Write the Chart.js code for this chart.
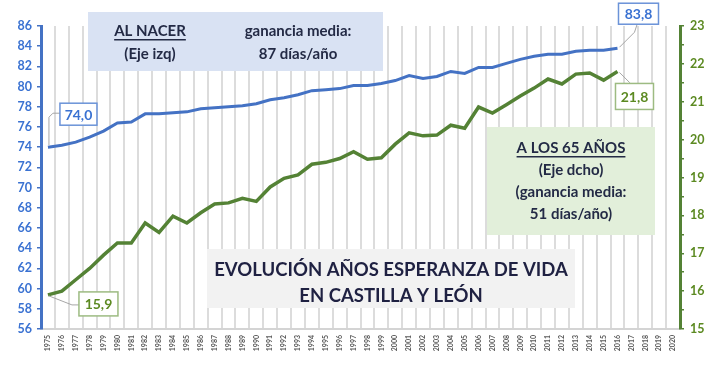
<!DOCTYPE html>
<html lang="es">
<head>
<meta charset="utf-8">
<title>Esperanza de vida en Castilla y León</title>
<script src="https://cdn.jsdelivr.net/npm/chart.js@4/dist/chart.umd.min.js"></script>
<style>
  html, body { margin: 0; padding: 0; background: #fff; }
  #wrap { width: 728px; height: 365px; position: relative; }
</style>
</head>
<body>
<div id="wrap"><canvas id="grafico"></canvas></div>
<script>
// años del eje X (la serie llega hasta 2016, el eje hasta 2020)
const anios = ['1975','1976','1977','1978','1979','1980','1981','1982','1983','1984',
  '1985','1986','1987','1988','1989','1990','1991','1992','1993','1994',
  '1995','1996','1997','1998','1999','2000','2001','2002','2003','2004',
  '2005','2006','2007','2008','2009','2010','2011','2012','2013','2014',
  '2015','2016','2017','2018','2019','2020'];

// esperanza de vida al nacer (eje izquierdo)
const alNacer = [74.0, 74.2, 74.5, 75.0, 75.6, 76.4, 76.5, 77.3, 77.3, 77.4,
  77.5, 77.8, 77.9, 78.0, 78.1, 78.3, 78.7, 78.9, 79.2, 79.6,
  79.7, 79.8, 80.1, 80.1, 80.3, 80.6, 81.1, 80.8, 81.0, 81.5,
  81.3, 81.9, 81.9, 82.3, 82.7, 83.0, 83.2, 83.2, 83.5, 83.6,
  83.6, 83.8];

// esperanza de vida a los 65 años (eje derecho)
const a65 = [15.9, 16.0, 16.3, 16.6, 16.95, 17.27, 17.27, 17.8, 17.55, 17.98,
  17.8, 18.07, 18.3, 18.33, 18.45, 18.37, 18.75, 18.98, 19.07, 19.35,
  19.4, 19.5, 19.68, 19.48, 19.52, 19.88, 20.18, 20.1, 20.12, 20.38,
  20.3, 20.86, 20.7, 20.92, 21.15, 21.36, 21.6, 21.47, 21.73, 21.76,
  21.57, 21.8];

// límites de los ejes
const ejeIzq = { min: 56, max: 86 };
const ejeDcho = { min: 15, max: 23 };

const AZUL = '#4472C4';
const AZUL_TXT = '#3a72d2';
const VERDE = '#548235';
const VERDE_TXT = '#5c8a22';
const FUENTE = 'Lato, "Open Sans", sans-serif';

Chart.defaults.font.family = FUENTE;

const fmt = v => v.toFixed(1).replace('.', ',');

// cuadros de texto y etiquetas de valor
const cuadrosPlugin = {
    id: 'cuadros',
    beforeDatasetsDraw(chart) {
        const ctx = chart.ctx;
        ctx.save();
        ctx.textAlign = 'center';
        ctx.textBaseline = 'middle';

        // cuadro azul: al nacer
        ctx.fillStyle = '#d9e2f3';
        ctx.fillRect(88, 12, 295, 59);
        ctx.fillStyle = '#232a45';
        ctx.font = 'bold 15px ' + FUENTE;
        textoSubrayado(ctx, 'AL NACER', 150, 31);
        ctx.fillText('(Eje izq)', 150, 54);
        ctx.fillText('ganancia media:', 298, 31);
        ctx.fillText('87 días/año', 298, 54);

        // cuadro verde: a los 65 años
        ctx.fillStyle = '#e2efda';
        ctx.fillRect(487, 127, 168, 108);
        ctx.fillStyle = '#232a45';
        textoSubrayado(ctx, 'A LOS 65 AÑOS', 571, 148);
        ctx.fillText('(Eje dcho)', 571, 170);
        ctx.fillText('(ganancia media:', 571, 192);
        ctx.fillText('51 días/año)', 571, 214);

        // cuadro gris: título
        ctx.fillStyle = '#f2f2f2';
        ctx.fillRect(207, 249, 368, 59);
        ctx.fillStyle = '#1f2142';
        ctx.font = 'bold 18.5px ' + FUENTE;
        ctx.fillText('EVOLUCIÓN AÑOS ESPERANZA DE VIDA', 391, 270);
        ctx.fillText('EN CASTILLA Y LEÓN', 391, 296);
        ctx.restore();
    },
    afterDatasetsDraw(chart) {
        const ctx = chart.ctx;
        const pN = chart.getDatasetMeta(0).data;
        const p6 = chart.getDatasetMeta(1).data;
        const ini = 0, fin = alNacer.length - 1;

        // 74,0
        let p = pN[ini];
        guia(ctx, [[p.x + 1, p.y - 2], [p.x + 1, p.y - 30], [p.x + 5, p.y - 34], [p.x + 12, p.y - 34]]);
        etiqueta(ctx, fmt(alNacer[ini]), p.x + 12, p.y - 44, 37, 22, '#6b93d8', AZUL_TXT);

        // 15,9
        p = p6[ini];
        guia(ctx, [[p.x + 1, p.y + 1], [p.x + 24, p.y + 10], [p.x + 31, p.y + 10]]);
        etiqueta(ctx, fmt(a65[ini]), p.x + 31, p.y - 3, 39, 24, '#9dbb82', VERDE_TXT);

        // 83,8
        p = pN[fin];
        guia(ctx, [[p.x + 2, p.y - 1], [p.x + 17, p.y - 16], [p.x + 20, p.y - 25]]);
        etiqueta(ctx, fmt(alNacer[fin]), p.x + 1, p.y - 45, 40, 21, '#6b93d8', AZUL_TXT);

        // 21,8
        p = p6[fin];
        guia(ctx, [[p.x + 2, p.y + 1], [p.x + 12, p.y + 11], [p.x + 13, p.y + 12]]);
        etiqueta(ctx, fmt(a65[fin]), p.x - 2, p.y + 12, 38, 26, '#9dbb82', VERDE_TXT);
    }
};

function textoSubrayado(ctx, txt, x, y) {
    ctx.fillText(txt, x, y);
    const w = ctx.measureText(txt).width;
    ctx.fillRect(x - w / 2, y + 8, w, 1.5);
}

function guia(ctx, pts) {
    ctx.save();
    ctx.strokeStyle = '#a6a6a6';
    ctx.lineWidth = 1;
    ctx.beginPath();
    ctx.moveTo(pts[0][0], pts[0][1]);
    pts.slice(1).forEach(q => ctx.lineTo(q[0], q[1]));
    ctx.stroke();
    ctx.restore();
}

function etiqueta(ctx, txt, x, y, w, h, borde, color) {
    ctx.save();
    ctx.fillStyle = '#fff';
    ctx.fillRect(x, y, w, h);
    ctx.strokeStyle = borde;
    ctx.lineWidth = 1.5;
    ctx.strokeRect(x, y, w, h);
    ctx.fillStyle = color;
    ctx.font = 'bold 14px ' + FUENTE;
    ctx.textAlign = 'center';
    ctx.textBaseline = 'middle';
    ctx.fillText(txt, x + w / 2, y + h / 2 + 1);
    ctx.restore();
}

new Chart(document.getElementById('grafico'), {
    type: 'line',
    data: {
        labels: anios,
        datasets: [{
            label: 'Al nacer',
            data: alNacer,
            yAxisID: 'y',
            borderColor: AZUL,
            borderWidth: 3,
            pointRadius: 0,
            tension: 0
        }, {
            label: 'A los 65 años',
            data: a65,
            yAxisID: 'y1',
            borderColor: VERDE,
            borderWidth: 3.5,
            pointRadius: 0,
            tension: 0
        }]
    },
    options: {
        responsive: true,
        maintainAspectRatio: false,
        animation: false,
        layout: { padding: { top: 26, left: 0, right: 0, bottom: 0 } },
        plugins: {
            legend: { display: false },
            tooltip: { enabled: false }
        },
        scales: {
            x: {
                offset: true,
                grid: { offset: true, color: '#dcdcdc', lineWidth: 2, drawTicks: false },
                border: { color: '#d4d4d4', width: 2 },
                ticks: {
                    autoSkip: false,
                    maxRotation: 90,
                    minRotation: 90,
                    padding: 6,
                    color: '#5a5a5a',
                    font: { size: 7, weight: 'bold' }
                },
                afterFit: s => { s.height = 36; }
            },
            y: {
                position: 'left',
                min: ejeIzq.min,
                max: ejeIzq.max,
                ticks: {
                    stepSize: 1,
                    padding: 5,
                    color: AZUL_TXT,
                    font: { size: 12.5, weight: 'bold' },
                    callback: v => (v % 2 === 0 ? v : '')
                },
                grid: { drawOnChartArea: false, color: AZUL, lineWidth: 1.5, tickLength: 4 },
                border: { color: AZUL, width: 3 },
                afterFit: s => { s.width = 41; }
            },
            y1: {
                position: 'right',
                min: ejeDcho.min,
                max: ejeDcho.max,
                ticks: {
                    stepSize: 0.5,
                    padding: 6,
                    color: VERDE_TXT,
                    font: { size: 12.5, weight: 'bold' },
                    callback: v => (Number.isInteger(v) ? v : '')
                },
                grid: { drawOnChartArea: false, color: VERDE, lineWidth: 1.5, tickLength: 4 },
                border: { color: VERDE, width: 3 },
                afterFit: s => { s.width = 48; }
            }
        }
    },
    plugins: [cuadrosPlugin]
});
</script>
</body>
</html>
